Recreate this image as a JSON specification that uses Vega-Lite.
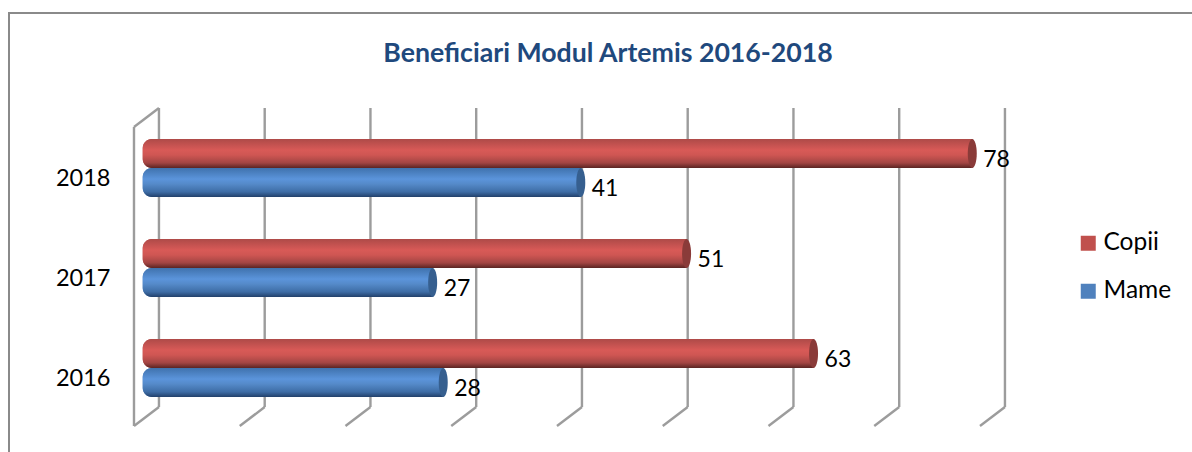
{
  "$schema": "https://vega.github.io/schema/vega-lite/v6.json",
  "autosize": "none",
  "padding": {"left": 9, "top": 13, "right": 0, "bottom": 0},
  "width": 1190,
  "height": 445,
  "background": "white",
  "config": {"view": {"stroke": "#8a8a8a", "strokeWidth": 2}, "font": "Lato"},
  "title": {"text": "Beneficiari Modul Artemis 2016-2018", "font": "Lato", "fontSize": 26.7, "fontWeight": "bold", "color": "#1F497D", "anchor": "middle", "frame": "group", "dx": 4, "offset": -68, "baseline": "middle"},
  "datasets": {
    "grid": [
      {"tick": 0, "front": -2.36}, {"tick": 10, "front": 7.64}, {"tick": 20, "front": 17.64},
      {"tick": 30, "front": 27.64}, {"tick": 40, "front": 37.64}, {"tick": 50, "front": 47.64},
      {"tick": 60, "front": 57.64}, {"tick": 70, "front": 67.64}, {"tick": 80, "front": 77.64}
    ],
    "beneficiari": [
      {"an": "2018", "serie": "Copii", "valoare": 78},
      {"an": "2018", "serie": "Mame", "valoare": 41},
      {"an": "2017", "serie": "Copii", "valoare": 51},
      {"an": "2017", "serie": "Mame", "valoare": 27},
      {"an": "2016", "serie": "Copii", "valoare": 63},
      {"an": "2016", "serie": "Mame", "valoare": 28}
    ]
  },
  "resolve": {"scale": {"x": "independent", "y": "independent"}, "axis": {"x": "independent", "y": "independent"}},
  "layer": [
    {
      "data": {"name": "grid"},
      "encoding": {
        "x": {"field": "tick", "type": "quantitative", "scale": {"domain": [-14.18, 98.35], "nice": false, "zero": false}, "axis": null}
      },
      "layer": [
        {
          "mark": {"type": "rule", "color": "#9c9c9c", "strokeWidth": 2.4},
          "encoding": {
            "y": {"datum": 95, "type": "quantitative", "scale": {"domain": [0, 445], "reverse": true, "nice": false}, "axis": null},
            "y2": {"datum": 394}
          }
        },
        {
          "mark": {"type": "rule", "color": "#9c9c9c", "strokeWidth": 2.4},
          "encoding": {
            "x2": {"field": "front"},
            "y": {"datum": 394, "type": "quantitative", "axis": null},
            "y2": {"datum": 413}
          }
        },
        {
          "transform": [{"filter": "datum.tick === 0"}],
          "mark": {"type": "rule", "color": "#9c9c9c", "strokeWidth": 2.4},
          "encoding": {
            "x2": {"field": "front"},
            "y": {"datum": 95, "type": "quantitative", "axis": null},
            "y2": {"datum": 114}
          }
        },
        {
          "transform": [{"filter": "datum.tick === 0"}],
          "mark": {"type": "rule", "color": "#9c9c9c", "strokeWidth": 2.4},
          "encoding": {
            "x": {"field": "front", "type": "quantitative"},
            "y": {"datum": 114, "type": "quantitative", "axis": null},
            "y2": {"datum": 413}
          }
        }
      ]
    },
    {
      "data": {"name": "beneficiari"},
      "encoding": {
        "y": {
          "field": "an", "type": "nominal", "sort": ["2018", "2017", "2016"],
          "scale": {"paddingInner": 0.42, "paddingOuter": 0.935, "align": 0.674},
          "axis": {"title": null, "orient": "left", "domain": false, "ticks": false, "grid": false, "offset": -101, "labelPadding": 0, "labelOffset": 11, "labelFont": "Lato", "labelFontSize": 23.5, "labelColor": "#000000", "labelAngle": 0}
        },
        "yOffset": {"field": "serie", "type": "nominal", "sort": ["Copii", "Mame"], "scale": {"paddingInner": 0, "paddingOuter": 0}},
        "x": {"field": "valoare", "type": "quantitative", "scale": {"domain": [-13.04, 99.43], "nice": false, "zero": false}, "axis": null}
      },
      "layer": [
        {
          "mark": {"type": "bar", "cornerRadiusTopLeft": 9, "cornerRadiusBottomLeft": 9},
          "encoding": {
            "x2": {"datum": -0.4},
            "color": {
              "field": "serie", "type": "nominal",
              "scale": {"domain": ["Copii", "Mame"], "range": ["#C0504D", "#4F81BD"]},
              "legend": {"title": null, "orient": "none", "legendX": 1067, "legendY": 218, "symbolType": "square", "symbolSize": 225, "symbolStrokeWidth": 0, "labelFont": "Lato", "labelFontSize": 24.5, "labelColor": "#000000", "labelOffset": 3, "rowPadding": 23}
            }
          }
        },
        {
          "transform": [{"filter": "datum.serie === 'Copii'"}],
          "mark": {
            "type": "bar", "cornerRadiusTopLeft": 9, "cornerRadiusBottomLeft": 9,
            "color": {
              "gradient": "linear", "x1": 0, "y1": 0, "x2": 0, "y2": 1,
              "stops": [
                {"offset": 0, "color": "#AE4A48"},
                {"offset": 0.38, "color": "#D85A57"},
                {"offset": 0.55, "color": "#CF5653"},
                {"offset": 0.82, "color": "#A34543"},
                {"offset": 1, "color": "#5A2422"}
              ]
            }
          },
          "encoding": {"x2": {"datum": -0.4}}
        },
        {
          "transform": [{"filter": "datum.serie === 'Mame'"}],
          "mark": {
            "type": "bar", "cornerRadiusTopLeft": 9, "cornerRadiusBottomLeft": 9,
            "color": {
              "gradient": "linear", "x1": 0, "y1": 0, "x2": 0, "y2": 1,
              "stops": [
                {"offset": 0, "color": "#3F72AD"},
                {"offset": 0.38, "color": "#5B94DB"},
                {"offset": 0.55, "color": "#558AC9"},
                {"offset": 0.82, "color": "#3E6DA6"},
                {"offset": 1, "color": "#22406A"}
              ]
            }
          },
          "encoding": {"x2": {"datum": -0.4}}
        },
        {
          "mark": {"type": "point", "filled": true, "opacity": 1, "shape": "M0,-1A0.31,1,0,0,1,0,1A0.31,1,0,0,1,0,-1Z", "size": 841},
          "encoding": {
            "fill": {"field": "serie", "type": "nominal", "scale": {"domain": ["Copii", "Mame"], "range": ["#8A3B39", "#365F8F"]}, "legend": null}
          }
        },
        {
          "mark": {"type": "text", "align": "left", "baseline": "middle", "dx": 11, "dy": 6.5, "font": "Lato", "fontSize": 23, "color": "#000000"},
          "encoding": {"text": {"field": "valoare", "type": "quantitative"}}
        }
      ]
    }
  ]
}
